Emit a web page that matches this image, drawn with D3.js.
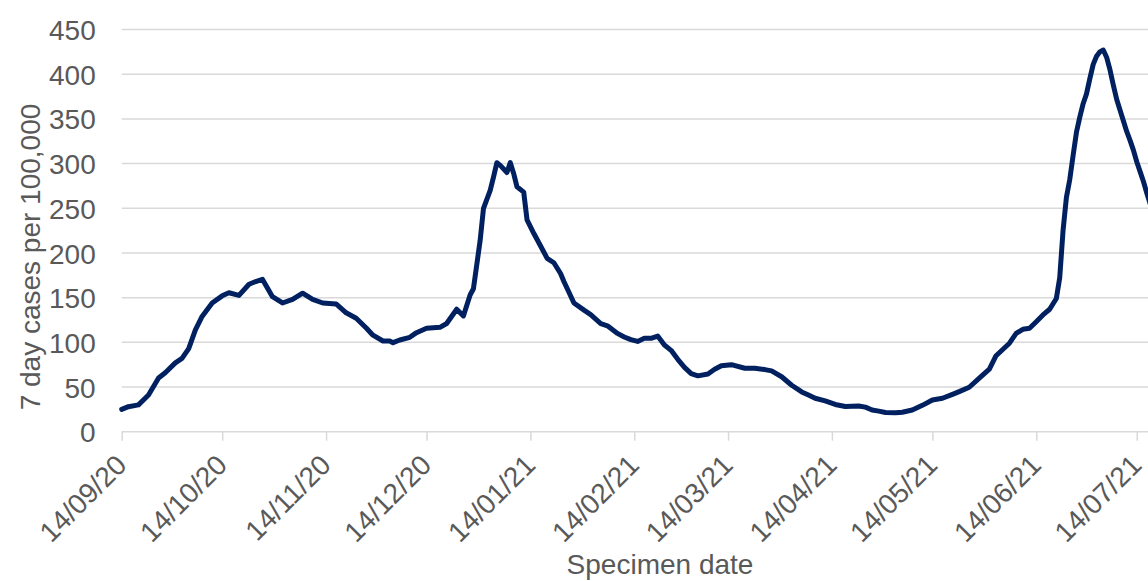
<!DOCTYPE html>
<html>
<head>
<meta charset="utf-8">
<script src="https://cdn.jsdelivr.net/npm/d3@7"></script>
<style>
  html, body { margin: 0; padding: 0; background: #fff; }
  svg { display: block; }
  text { font-family: "Liberation Sans", Arial, sans-serif; fill: #595959; }
</style>
</head>
<body>
<svg id="chart" width="1148" height="581"></svg>
<script>
// 7-day case rate per 100,000 by specimen date
const dates = [
  "2020-09-14","2020-09-16","2020-09-19","2020-09-22","2020-09-25","2020-09-27","2020-09-30",
  "2020-10-02","2020-10-04","2020-10-06","2020-10-08","2020-10-11","2020-10-14","2020-10-16",
  "2020-10-19","2020-10-22","2020-10-24","2020-10-26","2020-10-29","2020-11-01","2020-11-04",
  "2020-11-07","2020-11-10","2020-11-13","2020-11-17","2020-11-20","2020-11-23","2020-11-26",
  "2020-11-28","2020-12-01","2020-12-03","2020-12-04","2020-12-06","2020-12-09","2020-12-11",
  "2020-12-14","2020-12-18","2020-12-20","2020-12-23","2020-12-25","2020-12-27","2020-12-28",
  "2020-12-30","2020-12-31","2021-01-02","2021-01-03","2021-01-04","2021-01-05","2021-01-07",
  "2021-01-08","2021-01-09","2021-01-10","2021-01-12","2021-01-13","2021-01-15","2021-01-17",
  "2021-01-19","2021-01-21","2021-01-23","2021-01-24","2021-01-27","2021-01-30","2021-02-01",
  "2021-02-04","2021-02-06","2021-02-09","2021-02-11","2021-02-13","2021-02-15","2021-02-17",
  "2021-02-19","2021-02-21","2021-02-23","2021-02-25","2021-02-27","2021-03-01","2021-03-03",
  "2021-03-05","2021-03-08","2021-03-10","2021-03-12","2021-03-15","2021-03-19","2021-03-22",
  "2021-03-25","2021-03-27","2021-03-30","2021-04-02","2021-04-05","2021-04-07","2021-04-09",
  "2021-04-12","2021-04-15","2021-04-18","2021-04-22","2021-04-24","2021-04-26","2021-04-28",
  "2021-04-30","2021-05-03","2021-05-05","2021-05-08","2021-05-11","2021-05-14","2021-05-17",
  "2021-05-20","2021-05-22","2021-05-25","2021-05-28","2021-05-31","2021-06-02","2021-06-04",
  "2021-06-06","2021-06-08","2021-06-10","2021-06-12","2021-06-14","2021-06-16","2021-06-18",
  "2021-06-20","2021-06-21","2021-06-22","2021-06-23","2021-06-24","2021-06-25","2021-06-26",
  "2021-06-27","2021-06-28","2021-06-29","2021-06-30","2021-07-01","2021-07-02","2021-07-03",
  "2021-07-04","2021-07-05","2021-07-06","2021-07-07","2021-07-08","2021-07-09","2021-07-10",
  "2021-07-11","2021-07-12","2021-07-13","2021-07-14","2021-07-15","2021-07-16","2021-07-17",
  "2021-07-18"
];
const rates = [
  25, 28, 30, 41, 60, 66, 77,
  82, 93, 114, 129, 144, 152, 155.5,
  152.5, 165, 168, 170.5, 151, 144, 148,
  155, 148, 144, 143, 133, 127, 116,
  108, 101.5, 101.5, 99.6, 102.6, 105.6, 110.8,
  115.7, 116.8, 121, 137, 129.5, 153, 160,
  214, 250, 270, 285, 301, 298, 290,
  301, 289, 274, 268, 237, 222, 208,
  194, 189, 177, 168, 144, 136, 131,
  121, 118.5, 110, 106, 103, 101, 104.5,
  104.5, 107, 97, 91, 81, 72, 65,
  62.5, 64.6, 69.8, 73.7, 75, 71, 71,
  69.5, 68, 61.5, 52, 44.5, 41, 37.4,
  34.4, 30.5, 28.2, 28.8, 27.5, 24.3, 23,
  21.5, 21.3, 21.8, 24.3, 29.5, 35.5, 37.4,
  41.8, 44.8, 49.7, 60, 70, 85, 92,
  99, 110, 114.6, 115.7, 123, 130.6, 137,
  149, 172, 225, 262, 282, 309, 335,
  352, 367, 378, 395, 411, 420, 425,
  427, 419, 405, 388, 372, 360, 348,
  336, 326, 315, 302, 291, 280, 267,
  255
];
const xTickDates = [
  "2020-09-14","2020-10-14","2020-11-14","2020-12-14","2021-01-14","2021-02-14",
  "2021-03-14","2021-04-14","2021-05-14","2021-06-14","2021-07-14"
];
const yTicks = [0, 50, 100, 150, 200, 250, 300, 350, 400, 450];
const xAxisTitle = "Specimen date";
const yAxisTitle = "7 day cases per 100,000";

const parse = d3.timeParse("%Y-%m-%d");
const series = dates.map((d, i) => ({ date: parse(d), value: rates[i] }));

const svg = d3.select("#chart");
const fontSize = 28;

// plot area (the date axis runs on past the right edge of the view)
const plotLeft = 121.7, plotTop = 29.5, plotBottom = 431.7;
const x = d3.scaleTime()
  .domain([parse("2020-09-14"), parse("2021-07-21")])
  .range([plotLeft, plotLeft + 310 * 3.35]);
const y = d3.scaleLinear().domain([0, 450]).range([plotBottom, plotTop]);

// horizontal gridlines
svg.append("g")
  .selectAll("line")
  .data(yTicks.filter(v => v > 0))
  .join("line")
  .attr("x1", plotLeft).attr("x2", 1148)
  .attr("y1", d => y(d)).attr("y2", d => y(d))
  .attr("stroke", "#d9d9d9").attr("stroke-width", 1.5);

// y axis labels
const yAxis = d3.axisLeft(y).tickValues(yTicks).tickSize(0).tickPadding(0);
const gy = svg.append("g").attr("transform", `translate(${plotLeft},0)`).call(yAxis);
gy.select(".domain").remove();
gy.selectAll("text")
  .attr("x", -26)
  .attr("dy", "0.36em")
  .style("font-size", fontSize + "px")
  .style("font-family", "'Liberation Sans', Arial, sans-serif")
  .attr("fill", "#595959");

// x axis
const xAxis = d3.axisBottom(x)
  .tickValues(xTickDates.map(parse))
  .tickFormat(d3.timeFormat("%d/%m/%y"))
  .tickSize(9).tickSizeOuter(0);
const gx = svg.append("g").attr("transform", `translate(0,${plotBottom})`).call(xAxis);
gx.select(".domain")
  .attr("d", `M${plotLeft},0H1148`)
  .attr("stroke", "#d9d9d9").attr("stroke-width", 1.5);
gx.selectAll(".tick line").attr("stroke", "#d9d9d9").attr("stroke-width", 1.5);
gx.selectAll(".tick text")
  .attr("x", 0).attr("y", 0).attr("dy", 0)
  .attr("text-anchor", "end")
  .attr("transform", "translate(6,35) rotate(-45)")
  .style("font-size", fontSize + "px")
  .style("font-family", "'Liberation Sans', Arial, sans-serif")
  .attr("fill", "#595959");

// series line
const line = d3.line()
  .x(d => x(d.date))
  .y(d => y(d.value))
  .curve(d3.curveLinear);
svg.append("path")
  .datum(series)
  .attr("fill", "none")
  .attr("stroke", "#002060")
  .attr("stroke-width", 5)
  .attr("stroke-linejoin", "round")
  .attr("stroke-linecap", "round")
  .attr("d", line);

// axis titles
svg.append("text")
  .attr("x", 660).attr("y", 574)
  .attr("text-anchor", "middle")
  .style("font-size", fontSize + "px")
  .text(xAxisTitle);

svg.append("text")
  .attr("transform", "translate(40,257) rotate(-90)")
  .attr("text-anchor", "middle")
  .style("font-size", fontSize + "px")
  .text(yAxisTitle);
</script>
</body>
</html>
